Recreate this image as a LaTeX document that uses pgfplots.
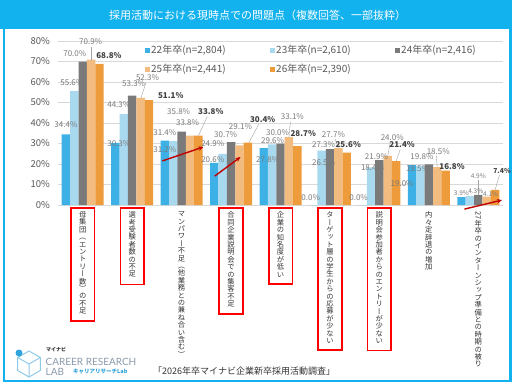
\documentclass[border=0pt]{standalone}
\usepackage{pgfplots}
\pgfplotsset{compat=1.18}
\usepackage{pgfplotstable}
\usepackage{graphicx}
\usepackage{fontspec}
\usetikzlibrary{arrows.meta}
\setmainfont{Noto Sans CJK JP}
\newfontfamily\cjkv[RawFeature=+vert]{Noto Sans CJK JP}
\newfontfamily\latofont{Lato}

\definecolor{c22}{HTML}{3DB1E6}
\definecolor{c23}{HTML}{A9D9EF}
\definecolor{c24}{HTML}{7A7A7A}
\definecolor{c25}{HTML}{F2BC80}
\definecolor{c26}{HTML}{EE9B3B}
\definecolor{framec}{HTML}{12B2EE}
\definecolor{gridc}{HTML}{D9D9D9}
\definecolor{tickc}{HTML}{595959}
\definecolor{labc}{HTML}{7A7A7A}
\definecolor{labb}{HTML}{404040}
\definecolor{arrowc}{HTML}{C00000}
\definecolor{logob}{HTML}{2EA3DC}
\definecolor{logol}{HTML}{8EC9E8}
\definecolor{logot}{HTML}{8A9BAB}

\ExplSyntaxOn
\cs_new:Npn \my_vchar:n #1 { \hbox_to_wd:nn {8bp} { \hss #1 \hss } }
\NewDocumentCommand{\vstack}{m}{
  \vbox{ \baselineskip=7.4bp \lineskiplimit=-100pt \lineskip=0pt
    \tl_map_function:nN {#1} \my_vchar:n } }
\ExplSyntaxOff
\newcommand{\rbox}[2]{{\setlength{\fboxrule}{1.6bp}\setlength{\fboxsep}{0pt}%
  \fcolorbox{#1}{white}{\hspace{7bp}\vbox{\vspace{3bp}\vstack{#2}\vspace{6bp}}\hspace{7bp}}}}

\pgfplotstableread{
x s22 s23 s24 s25 s26
0 34.4 55.6 70.0 70.9 68.8
1 30.3 44.3 53.3 52.3 51.1
2 31.4 31.2 35.8 33.8 33.8
3 20.6 24.9 30.7 29.1 30.4
4 27.8 29.6 30.0 33.1 28.7
5 0.0 26.5 27.3 27.7 25.6
6 0.0 18.4 21.9 24.0 21.4
7 19.5 19.0 19.8 18.5 16.8
8 3.9 4.3 4.9 4.1 7.4
}\data

\pgfplotstableread{
x y v
-0.34 39.0 34.4
-0.22 59.5 55.6
-0.16 74.1 70.0
0.16 79.5 70.9
0.73 30.2 30.3
0.73 48.8 44.3
1.03 59.0 53.3
1.31 62.0 52.3
1.66 35.1 31.4
1.66 26.8 31.2
1.94 45.4 35.8
2.12 40.0 33.8
2.63 22.4 20.6
2.63 29.8 24.9
2.89 34.6 30.7
3.19 38.5 29.1
3.74 22.0 27.8
3.84 31.2 29.6
3.94 35.1 30.0
4.24 42.9 33.1
4.61 3.4 0.0
4.87 20.5 26.5
4.87 29.3 27.3
5.07 34.6 27.7
5.58 3.4 0.0
5.86 18.5 18.4
5.94 23.4 21.9
6.26 32.7 24.0
6.77 18.0 19.5
6.46 10.7 19.0
6.86 23.4 19.8
7.19 26.3 18.5
}\labn

\pgfplotstableread{
x y v
7.66 5.9 3.9
7.95 6.8 4.3
8.00 14.1 4.9
8.25 5.4 4.1
}\labs

\pgfplotstableread{
x y v
0.53 72.7 68.8
1.78 53.2 51.1
2.59 45.4 33.8
3.64 41.5 30.4
4.46 35.1 28.7
5.37 29.3 25.6
6.46 29.3 21.4
7.47 19.0 16.8
}\labb

\pgfplotstableread{
x y v
8.48 16.6 7.4
}\labbs

\pgfplotsset{
  mybar/.style={ybar, bar width=8.4bp, draw=none,
    legend image code/.code={\fill[##1] (0bp,-2.5bp) rectangle (5bp,2.5bp);}},
  mylab/.style={forget plot, only marks, mark=*, mark size=0pt,
    mark options={draw=none, fill=none}, point meta=explicit,
    nodes near coords={\pgfmathprintnumber[fixed,fixed zerofill,precision=1]{\pgfplotspointmeta}\%},
    every node near coord/.append style={anchor=center, inner sep=0pt}},
}

\begin{document}
\begin{tikzpicture}[x=1bp,y=1bp]
\path[use as bounding box] (0,0) rectangle (515,390);
\fill[white] (0,0) rectangle (515,390);
\fill[framec] (0,361) rectangle (512,390);
\draw[framec, line width=2.5bp] (4,9) rectangle (510.5,362);
\node[text=white, font=\fontsize{11bp}{13bp}\selectfont] at (257.5,375) {採用活動における現時点での問題点（複数回答、一部抜粋）};

\begin{axis}[
  at={(58bp,185bp)}, anchor=south west,
  scale only axis, width=445bp, height=164bp,
  xmin=-0.5, xmax=8.5, ymin=0, ymax=80,
  axis line style={draw=none},
  tick style={draw=none},
  ymajorgrids, grid style={draw=gridc, line width=0.6bp},
  ytick={0,10,...,80},
  yticklabels={0\%,10\%,20\%,30\%,40\%,50\%,60\%,70\%,80\%},
  yticklabel style={font=\fontsize{9.5bp}{11bp}\selectfont, text=tickc, anchor=east, inner sep=0pt, xshift=-8bp},
  xtick={0,...,8},
  xticklabels={
    {\rbox{red}{母集団（エントリー数）の不足}},
    {\rbox{red}{選考受験者数の不足}},
    {\rbox{white}{マンパワー不足（他業務との兼ね合い含む）}},
    {\rbox{red}{合同企業説明会での集客不足}},
    {\rbox{red}{企業の知名度が低い}},
    {\rbox{red}{ターゲット層の学生からの応募が少ない}},
    {\rbox{red}{説明会参加者からのエントリーが少ない}},
    {\rbox{white}{内々定辞退の増加}},
    {\rbox{white}{{\raisebox{7bp}{\rotatebox{-90}{27}}}年卒のインターンシップ準備との時期の被り}}
  },
  xticklabel style={anchor=north, inner sep=0pt, yshift=-2bp, font=\cjkv\fontsize{7.3bp}{7.4bp}\selectfont, text=black!80},
  clip=false,
  /pgf/number format/assume math mode=true,
  legend columns=3,
  legend cell align=left,
  legend style={at={(0.1955,0.982)}, anchor=north west, draw=none, fill=none,
    inner sep=0pt, row sep=7bp,
    font=\fontsize{10bp}{12bp}\selectfont, text=tickc,
    /tikz/every even column/.append style={column sep=8bp},
    nodes={text width=110bp, inner sep=1bp, align=left}},
]
\addplot[mybar, bar shift=-16.8bp, fill=c22] table[x=x,y=s22]{\data};
\addlegendentry{22年卒(n=2,804)}
\addplot[mybar, bar shift=-8.4bp, fill=c23] table[x=x,y=s23]{\data};
\addlegendentry{23年卒(n=2,610)}
\addplot[mybar, bar shift=0bp, fill=c24] table[x=x,y=s24]{\data};
\addlegendentry{24年卒(n=2,416)}
\addplot[mybar, bar shift=8.4bp, fill=c25] table[x=x,y=s25]{\data};
\addlegendentry{25年卒(n=2,441)}
\addplot[mybar, bar shift=16.8bp, fill=c26] table[x=x,y=s26]{\data};
\addlegendentry{26年卒(n=2,390)}

% leader lines
\draw[labc!70, line width=0.4bp] (axis cs:0.17,77.3) -- (axis cs:0.17,70.9);
\draw[labc!70, line width=0.4bp] (axis cs:1.28,59.8) -- (axis cs:1.18,52.3);
\draw[labc!70, line width=0.4bp] (axis cs:2.52,43.2) -- (axis cs:2.34,33.8);
\draw[labc!70, line width=0.4bp] (axis cs:3.56,39.4) -- (axis cs:3.36,30.4);
\draw[labc!70, line width=0.4bp] (axis cs:4.20,40.7) -- (axis cs:4.17,33.1);
\draw[labc!70, line width=0.4bp] (axis cs:5.10,32.4) -- (axis cs:5.17,27.7);
\draw[labc!70, line width=0.4bp] (axis cs:6.22,30.5) -- (axis cs:6.17,24.0);
\draw[labc!70, line width=0.4bp] (axis cs:6.42,27.1) -- (axis cs:6.34,21.4);
\draw[labc!70, line width=0.4bp] (axis cs:7.15,24.2) -- (axis cs:7.17,18.5);
\draw[labc!70, line width=0.4bp] (axis cs:8.00,12.3) -- (axis cs:8.00,4.9);
\draw[labc!70, line width=0.4bp] (axis cs:8.43,14.8) -- (axis cs:8.34,7.4);

\addplot[mylab, every node near coord/.append style={font=\fontsize{8bp}{9bp}\selectfont, text=labc}] table[x=x,y=y,meta=v]{\labn};
\addplot[mylab, every node near coord/.append style={font=\fontsize{6.5bp}{8bp}\selectfont, text=labc}] table[x=x,y=y,meta=v]{\labs};
\addplot[mylab, every node near coord/.append style={font=\fontsize{8bp}{9bp}\selectfont\bfseries, text=labb}] table[x=x,y=y,meta=v]{\labb};
\addplot[mylab, every node near coord/.append style={font=\fontsize{6.8bp}{8bp}\selectfont\bfseries, text=labb}] table[x=x,y=y,meta=v]{\labbs};

% red arrows
\draw[arrowc, line width=1.4bp, -{Stealth[length=5bp,width=4.5bp]}] (axis cs:1.61,21.5) -- (axis cs:2.44,28.3);
\draw[arrowc, line width=1.4bp, -{Stealth[length=5bp,width=4.5bp]}] (axis cs:2.67,14.1) -- (axis cs:3.19,23.4);
\draw[arrowc, line width=1.4bp, -{Stealth[length=5bp,width=4.5bp]}] (axis cs:7.72,-2.0) -- (axis cs:8.48,2.4);
\end{axis}

% logo
\draw[logol, line width=1bp] (29,39) -- (40.3,32.5) -- (40.3,19.5) -- (29,13) -- (17.7,19.5) -- (17.7,32.5) -- cycle;
\draw[logol, line width=1bp] (17.7,32.5) -- (29,26) -- (40.3,32.5) (29,26) -- (29,13);
\fill[logob] (19,37) circle (3.5bp);
\node[anchor=west, inner sep=0pt, font=\fontsize{5bp}{6bp}\selectfont\bfseries, text=black!80] at (46,40) {マイナビ};
\node[anchor=west, inner sep=0pt, font=\latofont\fontsize{10bp}{12bp}\selectfont, text=logot] at (45.5,28) {CAREER RESEARCH};
\node[anchor=west, inner sep=0pt, font=\latofont\fontsize{10bp}{12bp}\selectfont, text=logot] at (45.5,18) {LAB};
\node[anchor=west, inner sep=0pt, font=\fontsize{5.5bp}{6bp}\selectfont\bfseries, text=logob] at (73,18) {キャリアリサーチLab};
\node[anchor=west, inner sep=0pt, font=\fontsize{9bp}{11bp}\selectfont, text=black!80] at (153,19) {「2026年卒マイナビ企業新卒採用活動調査」};
\end{tikzpicture}
\end{document}
